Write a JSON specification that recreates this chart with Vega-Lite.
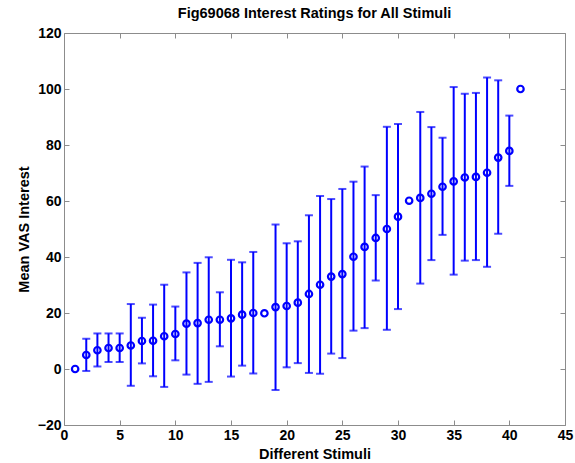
{
  "$schema": "https://vega.github.io/schema/vega-lite/v6.json",
  "autosize": {"type": "none"},
  "width": 501,
  "height": 392,
  "padding": {"left": 64, "top": 33, "right": 10, "bottom": 38},
  "background": "white",
  "title": {"text": "Fig69068 Interest Ratings for All Stimuli", "fontSize": 14.5, "font": "Liberation Sans", "fontWeight": "bold", "offset": 5, "anchor": "middle", "color": "black"},
  "data": {"values": [
    {"x": 1, "m": 0.0},
    {"x": 2, "m": 5.0, "lo": -0.7, "hi": 10.8},
    {"x": 3, "m": 6.7, "lo": 0.9, "hi": 12.7},
    {"x": 4, "m": 7.5, "lo": 2.5, "hi": 12.7},
    {"x": 5, "m": 7.5, "lo": 2.5, "hi": 12.7},
    {"x": 6, "m": 8.4, "lo": -6.0, "hi": 23.2},
    {"x": 7, "m": 10.0, "lo": 2.0, "hi": 18.3},
    {"x": 8, "m": 10.1, "lo": -2.6, "hi": 23.0},
    {"x": 9, "m": 11.7, "lo": -6.4, "hi": 30.1},
    {"x": 10, "m": 12.5, "lo": 3.1, "hi": 22.3},
    {"x": 11, "m": 16.2, "lo": -2.0, "hi": 34.5},
    {"x": 12, "m": 16.4, "lo": -5.3, "hi": 37.9},
    {"x": 13, "m": 17.6, "lo": -4.6, "hi": 39.9},
    {"x": 14, "m": 17.6, "lo": 8.1, "hi": 27.4},
    {"x": 15, "m": 18.1, "lo": -2.7, "hi": 39.0},
    {"x": 16, "m": 19.4, "lo": 1.2, "hi": 38.1},
    {"x": 17, "m": 20.0, "lo": -1.6, "hi": 41.8},
    {"x": 18, "m": 19.9},
    {"x": 19, "m": 22.1, "lo": -7.5, "hi": 51.6},
    {"x": 20, "m": 22.5, "lo": 0.6, "hi": 44.9},
    {"x": 21, "m": 23.7, "lo": 2.1, "hi": 45.6},
    {"x": 22, "m": 26.8, "lo": -1.4, "hi": 54.9},
    {"x": 23, "m": 30.1, "lo": -1.7, "hi": 61.8},
    {"x": 24, "m": 33.0, "lo": 5.5, "hi": 60.7},
    {"x": 25, "m": 33.9, "lo": 3.9, "hi": 64.3},
    {"x": 26, "m": 40.1, "lo": 13.7, "hi": 66.9},
    {"x": 27, "m": 43.6, "lo": 14.6, "hi": 72.3},
    {"x": 28, "m": 46.8, "lo": 31.6, "hi": 62.1},
    {"x": 29, "m": 50.0, "lo": 14.0, "hi": 86.5},
    {"x": 30, "m": 54.4, "lo": 21.4, "hi": 87.5},
    {"x": 31, "m": 60.1},
    {"x": 32, "m": 61.1, "lo": 30.5, "hi": 91.8},
    {"x": 33, "m": 62.6, "lo": 38.9, "hi": 86.4},
    {"x": 34, "m": 65.1, "lo": 47.9, "hi": 82.6},
    {"x": 35, "m": 67.0, "lo": 33.7, "hi": 100.7},
    {"x": 36, "m": 68.4, "lo": 38.7, "hi": 98.3},
    {"x": 37, "m": 68.6, "lo": 38.9, "hi": 98.6},
    {"x": 38, "m": 70.1, "lo": 36.5, "hi": 104.1},
    {"x": 39, "m": 75.5, "lo": 48.3, "hi": 103.1},
    {"x": 40, "m": 77.9, "lo": 65.4, "hi": 90.5},
    {"x": 41, "m": 100.0}
  ]},
  "config": {
    "view": {"stroke": "#8c8c8c", "strokeWidth": 1},
    "axis": {
      "labelFont": "Liberation Sans", "labelFontSize": 14, "labelFontWeight": "bold", "labelColor": "black",
      "titleFont": "Liberation Sans", "titleFontSize": 14.5, "titleFontWeight": "bold", "titleColor": "black",
      "grid": false, "domain": false, "tickColor": "#8c8c8c", "tickSize": -5, "labelFlush": false, "labelOverlap": false
    }
  },
  "resolve": {"axis": {"x": "independent", "y": "independent"}},
  "layer": [
    {
      "mark": {"type": "rule", "color": "#0000ff", "strokeWidth": 2},
      "encoding": {
        "x": {"field": "x", "type": "quantitative", "scale": {"domain": [0, 45], "nice": false, "zero": false},
              "axis": {"orient": "bottom", "values": [0, 5, 10, 15, 20, 25, 30, 35, 40, 45], "title": "Different Stimuli", "labelPadding": 8, "titlePadding": 5}},
        "y": {"field": "lo", "type": "quantitative", "scale": {"domain": [-20, 120], "nice": false, "zero": false},
              "axis": {"orient": "left", "values": [-20, 0, 20, 40, 60, 80, 100, 120], "title": "Mean VAS Interest", "labelPadding": 8, "titlePadding": 6}},
        "y2": {"field": "hi"}
      }
    },
    {
      "mark": {"type": "tick", "orient": "horizontal", "color": "#0000ff", "size": 8, "thickness": 2},
      "encoding": {
        "x": {"field": "x", "type": "quantitative", "axis": null},
        "y": {"field": "lo", "type": "quantitative", "axis": null}
      }
    },
    {
      "mark": {"type": "tick", "orient": "horizontal", "color": "#0000ff", "size": 8, "thickness": 2},
      "encoding": {
        "x": {"field": "x", "type": "quantitative", "axis": null},
        "y": {"field": "hi", "type": "quantitative", "axis": null}
      }
    },
    {
      "mark": {"type": "point", "shape": "circle", "filled": false, "color": "#0000ff", "size": 42, "strokeWidth": 2.2, "opacity": 1},
      "encoding": {
        "x": {"field": "x", "type": "quantitative", "axis": {"orient": "top", "values": [0, 5, 10, 15, 20, 25, 30, 35, 40, 45], "labels": false, "title": null}},
        "y": {"field": "m", "type": "quantitative", "axis": {"orient": "right", "values": [-20, 0, 20, 40, 60, 80, 100, 120], "labels": false, "title": null}}
      }
    }
  ]
}
